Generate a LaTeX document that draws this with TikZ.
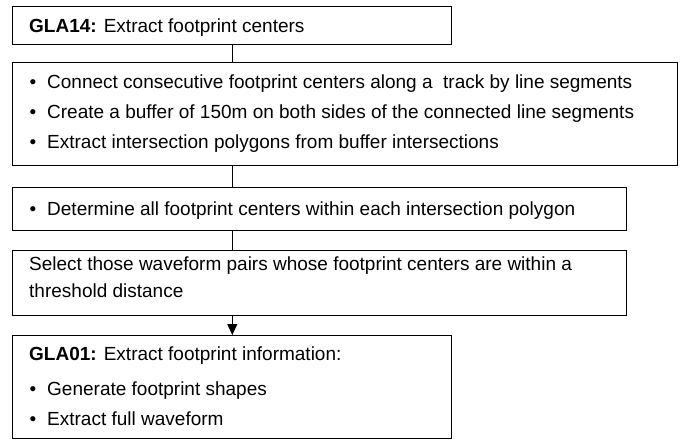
\documentclass[tikz,border=0pt]{standalone}
\usepackage{fontspec}
\setmainfont{Liberation Sans}
\usetikzlibrary{arrows.meta}
\tikzset{
  box/.style={draw=black, line width=1pt, anchor=north west, inner sep=0pt, outer sep=0pt},
  txt/.style={anchor=base west, inner sep=0pt, font=\fontsize{19}{22}\selectfont},
  bul/.style={anchor=base, inner sep=0pt, font=\fontsize{19}{22}\selectfont},
  conn/.style={draw=black, line width=1pt},
}
\begin{document}
\begin{tikzpicture}[x=1pt,y=-1pt]
\useasboundingbox (0,0) rectangle (682,440);
\coordinate (spine) at (232.3,0);
% boxes
\node[box, minimum width=439pt, minimum height=37.3pt] (b1) at (12.7,6.7) {};
\node[box, minimum width=664.3pt, minimum height=103pt] (b2) at (12.7,62) {};
\node[box, minimum width=613.3pt, minimum height=42.5pt] (b3) at (12.7,187.5) {};
\node[box, minimum width=613.3pt, minimum height=65.7pt] (b4) at (12.7,250) {};
\node[box, minimum width=439pt, minimum height=103pt] (b5) at (12.7,335) {};
% texts
\node[txt] (t1) at (29,32) {\textbf{GLA14:} Extract footprint centers};
\node[bul] (p21) at (33,88) {\textbullet};
\node[txt] (t21) at (47,88) {Connect consecutive footprint centers along a\ \ track by line segments};
\node[bul] (p22) at (33,118) {\textbullet};
\node[txt] (t22) at (47,118) {Create a buffer of 150m on both sides of the connected line segments};
\node[bul] (p23) at (33,148) {\textbullet};
\node[txt] (t23) at (47,148) {Extract intersection polygons from buffer intersections};
\node[bul] (p31) at (33,215) {\textbullet};
\node[txt] (t31) at (47,215) {Determine all footprint centers within each intersection polygon};
\node[txt] (t41) at (29,270) {Select those waveform pairs whose footprint centers are within a};
\node[txt] (t42) at (29,297) {threshold distance};
\node[txt] (t51) at (29,360) {\textbf{GLA01:} Extract footprint information:};
\node[bul] (p52) at (33,395) {\textbullet};
\node[txt] (t52) at (47,395) {Generate footprint shapes};
\node[bul] (p53) at (33,425) {\textbullet};
\node[txt] (t53) at (47,425) {Extract full waveform};
% connectors
\draw[conn] (b1.south -| spine) -- (b2.north -| spine);
\draw[conn] (b2.south -| spine) -- (b3.north -| spine);
\draw[conn] (b3.south -| spine) -- (b4.north -| spine);
\draw[conn, -{Triangle[length=11pt,width=10pt]}] (b4.south -| spine) -- (b5.north -| spine);
\end{tikzpicture}
\end{document}
